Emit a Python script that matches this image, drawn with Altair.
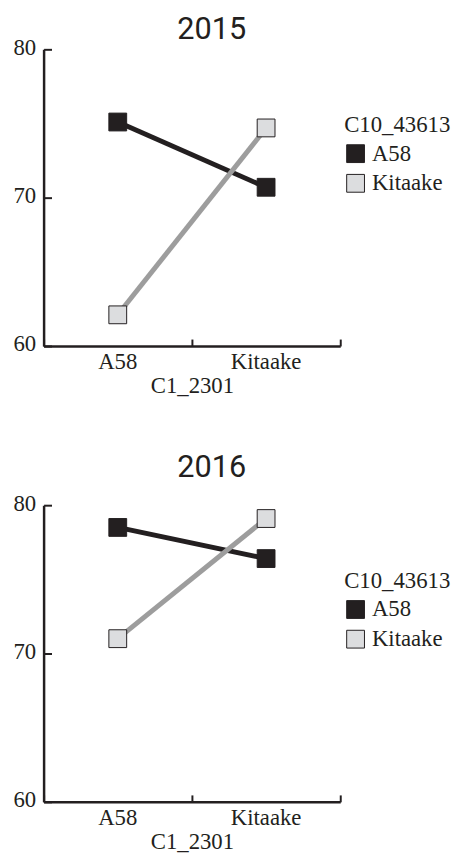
import altair as alt
import pandas as pd

years = ["2015", "2016"]
x_cats = ["A58", "Kitaake"]
series = ["A58", "Kitaake"]
# values per year: series A58 / series Kitaake, at x = A58, Kitaake
vals_2015_A58 = [75.1, 70.7]
vals_2015_Kit = [62.1, 74.7]
vals_2016_A58 = [78.5, 76.4]
vals_2016_Kit = [71.0, 79.1]

DARK = "#231f20"
SERIF = "Liberation Serif, Times New Roman, serif"
FS = 23

data = {
    "2015": (vals_2015_A58, vals_2015_Kit),
    "2016": (vals_2016_A58, vals_2016_Kit),
}

W, H = 300, 300


def panel(year, title_offset):
    a58, kit = data[year]
    rows = []
    for xi, xc in enumerate(x_cats):
        rows.append({"C1_2301": xc, "C10_43613": "A58", "value": a58[xi]})
        rows.append({"C1_2301": xc, "C10_43613": "Kitaake", "value": kit[xi]})
    df = pd.DataFrame(rows)

    xscale = alt.Scale(type="band", domain=x_cats, paddingInner=0, paddingOuter=0)
    yscale = alt.Scale(domain=[60, 80], nice=False, zero=False)

    line = alt.Chart(df).mark_line(strokeWidth=5).encode(
        x=alt.X("C1_2301:N", scale=xscale, bandPosition=0.5,
                axis=alt.Axis(orient="bottom", ticks=False, tickSize=0, labelAngle=0,
                              labelFont=SERIF, labelFontSize=FS, labelColor=DARK,
                              labelPadding=5, titleFont=SERIF, titleFontSize=FS,
                              titleFontWeight="normal", titleColor=DARK, titlePadding=1,
                              domainColor=DARK, domainWidth=2.5, title="C1_2301")),
        y=alt.Y("value:Q", scale=yscale,
                axis=alt.Axis(orient="left", ticks=False, tickSize=0, values=[60, 70, 80],
                              labelFont=SERIF, labelFontSize=FS, labelColor=DARK,
                              labelPadding=8, labelOffset=-2, domainColor=DARK,
                              domainWidth=2.5, grid=False, title=None)),
        color=alt.Color("C10_43613:N",
                        scale=alt.Scale(domain=series, range=[DARK, "#9d9d9d"]),
                        legend=None),
        detail="C10_43613:N",
    )

    pts = alt.Chart(df).mark_square(size=324, opacity=1, stroke=DARK, strokeWidth=1).encode(
        x=alt.X("C1_2301:N", scale=xscale, bandPosition=0.5,
                axis=alt.Axis(orient="top", offset=-H, labels=False, domain=False,
                              ticks=True, tickSize=7, tickWidth=2, tickColor=DARK,
                              tickBand="extent", title=None)),
        y=alt.Y("value:Q", scale=yscale,
                axis=alt.Axis(orient="right", offset=-W, labels=False, domain=False,
                              ticks=True, tickSize=8, tickWidth=2, tickColor=DARK,
                              values=[60, 70, 80], grid=False, title=None)),
        fill=alt.Fill("C10_43613:N",
                      scale=alt.Scale(domain=series, range=[DARK, "#dcdddf"]),
                      legend=alt.Legend(orient="none", legendX=304, legendY=66,
                                        title="C10_43613", titleFont=SERIF,
                                        titleFontSize=FS, titleFontWeight="normal",
                                        titleColor=DARK, titlePadding=5,
                                        labelFont=SERIF, labelFontSize=FS,
                                        labelColor=DARK, labelOffset=5,
                                        symbolType="square", symbolSize=324,
                                        symbolStrokeColor=DARK, symbolStrokeWidth=1,
                                        rowPadding=6)),
    )

    return alt.layer(line, pts).resolve_axis(x="independent", y="independent").properties(
        width=W, height=H,
        title=alt.TitleParams(year, font="Roboto", fontSize=31, fontWeight="normal",
                              color=DARK, anchor="middle", frame="group", dx=20,
                              offset=title_offset),
    )


chart = alt.vconcat(panel("2015", -10), panel("2016", 9), spacing=55).resolve_legend(
    fill="independent"
).properties(
    padding={"left": 5, "top": 2, "right": 0, "bottom": 0},
    background="white",
).configure_view(stroke=None)

chart.save("out.html", embed_options={"renderer": "svg", "actions": False})
